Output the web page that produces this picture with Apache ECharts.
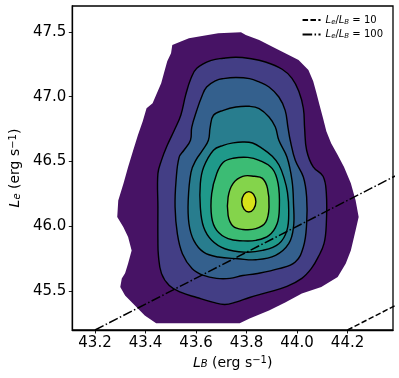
<!DOCTYPE html>
<html>
<head>
<meta charset="utf-8">
<script src="https://cdn.jsdelivr.net/npm/echarts@6/dist/echarts.min.js"></script>
<style>
  html, body { margin: 0; padding: 0; background: #fff; }
  #chart { width: 399px; height: 378px; }
</style>
</head>
<body>
<div id="chart"></div>
<script>
// axis ranges and tick values
const xRange = [43.11, 44.38]
const yRange = [45.2, 47.7]
const xTicks = [43.2, 43.4, 43.6, 43.8, 44.0, 44.2]
const yTicks = [45.5, 46.0, 46.5, 47.0, 47.5]

// density contours, outermost first, points are [L_B, L_e]
const maskRing = [
  [43.618, 47.467], [43.688, 47.490], [43.778, 47.498], [43.797, 47.477], [43.850, 47.438],
  [43.914, 47.374], [43.967, 47.322], [44.006, 47.284], [44.045, 47.207], [44.064, 47.119],
  [44.077, 47.027], [44.089, 46.936], [44.103, 46.834], [44.116, 46.733], [44.135, 46.641],
  [44.161, 46.550], [44.186, 46.458], [44.213, 46.332], [44.232, 46.200], [44.244, 46.071],
  [44.232, 45.969], [44.213, 45.814], [44.193, 45.714], [44.161, 45.608], [44.096, 45.531],
  [44.019, 45.482], [43.953, 45.413], [43.889, 45.351], [43.812, 45.289], [43.773, 45.253],
  [43.442, 45.253], [43.397, 45.312], [43.358, 45.390], [43.319, 45.467], [43.300, 45.531],
  [43.306, 45.598], [43.319, 45.637], [43.331, 45.714], [43.345, 45.814], [43.331, 45.917],
  [43.312, 45.994], [43.288, 46.071], [43.292, 46.200], [43.313, 46.332], [43.331, 46.458],
  [43.350, 46.579], [43.370, 46.705], [43.389, 46.810], [43.404, 46.911], [43.428, 46.949],
  [43.442, 47.014], [43.462, 47.104], [43.475, 47.197], [43.486, 47.274], [43.501, 47.336],
  [43.506, 47.400], [43.540, 47.426], [43.572, 47.451]
]
const ring1 = [
  [43.603, 47.220], [43.661, 47.281], [43.708, 47.297], [43.758, 47.305], [43.812, 47.295],
  [43.875, 47.268], [43.941, 47.212], [43.980, 47.142], [44.007, 47.042], [44.025, 46.911],
  [44.030, 46.756], [44.038, 46.587], [44.064, 46.458], [44.103, 46.386], [44.116, 46.254],
  [44.116, 46.023], [44.107, 45.868], [44.083, 45.760], [44.057, 45.675], [44.019, 45.598],
  [43.960, 45.536], [43.883, 45.490], [43.812, 45.451], [43.758, 45.415], [43.714, 45.397],
  [43.669, 45.413], [43.603, 45.451], [43.541, 45.490], [43.494, 45.544], [43.463, 45.637],
  [43.451, 45.776], [43.449, 45.892], [43.449, 46.149], [43.449, 46.407], [43.463, 46.509],
  [43.486, 46.625], [43.514, 46.741], [43.540, 46.859], [43.559, 47.014], [43.580, 47.142]
]
const ring2 = [
  [43.642, 47.075], [43.681, 47.127], [43.708, 47.140], [43.758, 47.148], [43.812, 47.140],
  [43.850, 47.114], [43.889, 47.075], [43.928, 46.998], [43.953, 46.895], [43.964, 46.764],
  [43.973, 46.664], [43.993, 46.509], [44.025, 46.380], [44.038, 46.226], [44.038, 46.020],
  [44.025, 45.840], [43.993, 45.724], [43.928, 45.673], [43.837, 45.634], [43.785, 45.621],
  [43.734, 45.598], [43.681, 45.598], [43.630, 45.621], [43.585, 45.673], [43.546, 45.789],
  [43.526, 45.943], [43.517, 46.149], [43.521, 46.355], [43.533, 46.532], [43.552, 46.587],
  [43.578, 46.664], [43.583, 46.764], [43.603, 46.895], [43.622, 46.998]
]
const ring3 = [
  [43.669, 46.857], [43.708, 46.895], [43.758, 46.921], [43.812, 46.926], [43.850, 46.909],
  [43.889, 46.844], [43.914, 46.766], [43.928, 46.664], [43.960, 46.535], [43.980, 46.355],
  [43.986, 46.175], [43.986, 45.994], [43.967, 45.866], [43.915, 45.776], [43.837, 45.742],
  [43.766, 45.750], [43.688, 45.763], [43.630, 45.801], [43.591, 45.892], [43.572, 46.020],
  [43.569, 46.200], [43.580, 46.417], [43.599, 46.509], [43.626, 46.587], [43.649, 46.664],
  [43.656, 46.766]
]
const ring4 = [
  [43.708, 46.625], [43.747, 46.644], [43.785, 46.651], [43.824, 46.643], [43.863, 46.600],
  [43.902, 46.540], [43.929, 46.471], [43.949, 46.370], [43.962, 46.262], [43.967, 46.123],
  [43.960, 45.969], [43.928, 45.866], [43.863, 45.814], [43.792, 45.801], [43.714, 45.827],
  [43.662, 45.892], [43.630, 45.994], [43.617, 46.149], [43.617, 46.329], [43.630, 46.455],
  [43.669, 46.587]
]
const ring5 = [
  [43.708, 46.494], [43.747, 46.525], [43.805, 46.532], [43.850, 46.509], [43.902, 46.445],
  [43.925, 46.329], [43.930, 46.149], [43.921, 46.020], [43.889, 45.930], [43.837, 45.892],
  [43.785, 45.888], [43.727, 45.905], [43.682, 45.969], [43.662, 46.071], [43.662, 46.252],
  [43.682, 46.407]
]
const ring6 = [
  [43.747, 46.332], [43.785, 46.386], [43.831, 46.386], [43.863, 46.370], [43.883, 46.293],
  [43.889, 46.149], [43.876, 46.033], [43.837, 45.982], [43.785, 45.976], [43.747, 46.000],
  [43.727, 46.085], [43.727, 46.226]
]
const ring7 = [
  [43.809, 46.268], [43.828, 46.246], [43.837, 46.189], [43.828, 46.132],
  [43.809, 46.110], [43.790, 46.132], [43.781, 46.189], [43.790, 46.246]
]
const contourRings = [maskRing, ring1, ring2, ring3, ring4, ring5, ring6, ring7]
const levelColors = ['#471365', '#433e85', '#34608d', '#287d8e', '#1f998a', '#3cbc74', '#84d44b', '#d8e219']

// luminosity ratio lines
const ratio10Line = [[44.2, 45.2], [44.5, 45.5]]
const ratio100Line = [[43.2, 45.2], [44.5, 46.5]]
const legendNames = ['Le/LB = 10', 'Le/LB = 100']
const legendRich = {
  'Le/LB = 10': '{i|L}{s|e}{n|/}{i|L}{s|B}{n| = 10}',
  'Le/LB = 100': '{i|L}{s|e}{n|/}{i|L}{s|B}{n| = 100}'
}

const font = 'DejaVu Sans'
const chart = echarts.init(document.getElementById('chart'))

const nameRich = {
  i: { fontFamily: font, fontSize: 14, fontStyle: 'italic', color: '#000' },
  s: { fontFamily: font, fontSize: 10, fontStyle: 'italic', verticalAlign: 'bottom', color: '#000' },
  n: { fontFamily: font, fontSize: 14, color: '#000' },
  p: { fontFamily: font, fontSize: 10, verticalAlign: 'top', color: '#000' }
}

const option = {
  backgroundColor: '#fff',
  animation: false,
  grid: {
    left: 66, right: 6, top: 6, bottom: 48,
    show: true, borderColor: '#000', borderWidth: 1.3, backgroundColor: 'transparent'
  },
  legend: {
    data: legendNames,
    orient: 'vertical',
    right: 11,
    top: 10,
    itemWidth: 18,
    itemHeight: 8,
    itemGap: 4,
    itemStyle: { opacity: 0 },
    textStyle: {
      fontFamily: font,
      fontSize: 10,
      color: '#000',
      rich: {
        i: { fontFamily: font, fontSize: 10, fontStyle: 'italic', lineHeight: 11 },
        s: { fontFamily: font, fontSize: 7, fontStyle: 'italic', verticalAlign: 'bottom', lineHeight: 8 },
        n: { fontFamily: font, fontSize: 10, lineHeight: 11 }
      }
    },
    formatter: name => legendRich[name]
  },
  xAxis: {
    type: 'value',
    min: xRange[0],
    max: xRange[1],
    splitLine: { show: false },
    axisLine: { show: true, onZero: false, lineStyle: { color: '#000', width: 1.3 } },
    axisTick: { show: true, length: 3.5, customValues: xTicks, lineStyle: { color: '#000', width: 0.9 } },
    axisLabel: {
      customValues: xTicks,
      formatter: v => v.toFixed(1),
      fontFamily: font, fontSize: 15, color: '#000', margin: 6
    },
    name: '{i|L}{s|B}{n| (erg s}{p|−1}{n|)}',
    nameLocation: 'middle',
    nameGap: 25,
    nameTextStyle: { rich: nameRich }
  },
  yAxis: {
    type: 'value',
    min: yRange[0],
    max: yRange[1],
    splitLine: { show: false },
    axisLine: { show: true, onZero: false, lineStyle: { color: '#000', width: 1.3 } },
    axisTick: { show: true, length: 3.5, customValues: yTicks, lineStyle: { color: '#000', width: 0.9 } },
    axisLabel: {
      customValues: yTicks,
      formatter: v => v.toFixed(1),
      fontFamily: font, fontSize: 15, color: '#000', margin: 6
    },
    name: '{i|L}{s|e}{n| (erg s}{p|−1}{n|)}',
    nameLocation: 'middle',
    nameGap: 45,
    nameTextStyle: { rich: nameRich }
  },
  series: [
    {
      type: 'custom',
      silent: true,
      data: contourRings.map(r => r[0]),
      renderItem: (params, api) => {
        const i = params.dataIndex
        const points = contourRings[i].map(p => api.coord(p))
        return {
          type: 'polygon',
          shape: { points, smooth: i === 0 ? 0 : 0.4 },
          style: {
            fill: levelColors[i],
            stroke: i === 0 ? null : '#000',
            lineWidth: 1.4
          }
        }
      },
      z: 1
    },
    {
      name: legendNames[0],
      type: 'line',
      data: ratio10Line,
      symbol: 'none',
      clip: true,
      itemStyle: { color: '#000' },
      lineStyle: { color: '#000', width: 1.5, type: [5.5, 2.4] },
      z: 3
    },
    {
      name: legendNames[1],
      type: 'line',
      data: ratio100Line,
      symbol: 'none',
      clip: true,
      itemStyle: { color: '#000' },
      lineStyle: { color: '#000', width: 1.5, type: [9.6, 2.4, 1.5, 2.4] },
      z: 3
    }
  ]
}
chart.setOption(option)
</script>
</body>
</html>
